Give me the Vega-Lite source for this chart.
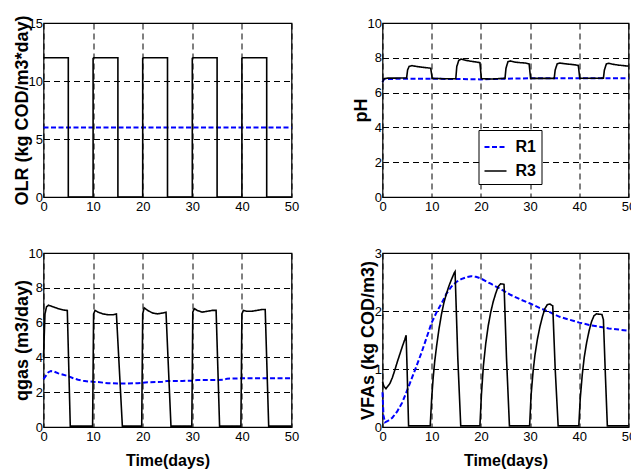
{
  "$schema": "https://vega.github.io/schema/vega-lite/v6.json",
  "padding": {"left": 11.5, "top": 14, "right": 0, "bottom": 0},
  "background": "white",
  "datasets": {
    "olr": [
      {"s": "R1", "t": 0, "v": 6}, {"s": "R1", "t": 50, "v": 6},
      {"s": "R3", "t": 0, "v": 12}, {"s": "R3", "t": 5, "v": 0}, {"s": "R3", "t": 10, "v": 12}, {"s": "R3", "t": 15, "v": 0},
      {"s": "R3", "t": 20, "v": 12}, {"s": "R3", "t": 25, "v": 0}, {"s": "R3", "t": 30, "v": 12}, {"s": "R3", "t": 35, "v": 0},
      {"s": "R3", "t": 40, "v": 12}, {"s": "R3", "t": 45, "v": 0}, {"s": "R3", "t": 50, "v": 0}
    ],
    "ph": [
      {"s": "R1", "t": 0, "v": 6.6}, {"s": "R1", "t": 0.3, "v": 6.78}, {"s": "R1", "t": 5, "v": 6.8}, {"s": "R1", "t": 10, "v": 6.8},
      {"s": "R1", "t": 15, "v": 6.78}, {"s": "R1", "t": 20, "v": 6.76}, {"s": "R1", "t": 25, "v": 6.8}, {"s": "R1", "t": 30, "v": 6.82},
      {"s": "R1", "t": 40, "v": 6.83}, {"s": "R1", "t": 50, "v": 6.83},
      {"s": "R3", "t": 0, "v": 6.6}, {"s": "R3", "t": 0.3, "v": 6.8}, {"s": "R3", "t": 1, "v": 6.83}, {"s": "R3", "t": 4.9, "v": 6.84},
      {"s": "R3", "t": 5.1, "v": 7.3}, {"s": "R3", "t": 5.4, "v": 7.5}, {"s": "R3", "t": 6, "v": 7.55}, {"s": "R3", "t": 7, "v": 7.5},
      {"s": "R3", "t": 8, "v": 7.46}, {"s": "R3", "t": 9, "v": 7.43}, {"s": "R3", "t": 9.8, "v": 7.4}, {"s": "R3", "t": 10.1, "v": 6.82},
      {"s": "R3", "t": 12, "v": 6.8}, {"s": "R3", "t": 14.9, "v": 6.8}, {"s": "R3", "t": 15.1, "v": 7.5}, {"s": "R3", "t": 15.5, "v": 7.85},
      {"s": "R3", "t": 16, "v": 7.93}, {"s": "R3", "t": 17, "v": 7.85}, {"s": "R3", "t": 18, "v": 7.8}, {"s": "R3", "t": 19, "v": 7.76},
      {"s": "R3", "t": 19.8, "v": 7.72}, {"s": "R3", "t": 20.1, "v": 6.8}, {"s": "R3", "t": 22, "v": 6.78}, {"s": "R3", "t": 24.9, "v": 6.82},
      {"s": "R3", "t": 25.1, "v": 7.4}, {"s": "R3", "t": 25.5, "v": 7.78}, {"s": "R3", "t": 26, "v": 7.82}, {"s": "R3", "t": 27, "v": 7.75},
      {"s": "R3", "t": 28, "v": 7.72}, {"s": "R3", "t": 29, "v": 7.7}, {"s": "R3", "t": 29.8, "v": 7.65}, {"s": "R3", "t": 30.1, "v": 6.82},
      {"s": "R3", "t": 34.9, "v": 6.82}, {"s": "R3", "t": 35.1, "v": 7.3}, {"s": "R3", "t": 35.5, "v": 7.65}, {"s": "R3", "t": 36, "v": 7.7},
      {"s": "R3", "t": 37, "v": 7.66}, {"s": "R3", "t": 38, "v": 7.63}, {"s": "R3", "t": 39, "v": 7.6}, {"s": "R3", "t": 39.8, "v": 7.56},
      {"s": "R3", "t": 40.1, "v": 6.82}, {"s": "R3", "t": 44.9, "v": 6.83}, {"s": "R3", "t": 45.1, "v": 7.3}, {"s": "R3", "t": 45.5, "v": 7.65},
      {"s": "R3", "t": 46, "v": 7.68}, {"s": "R3", "t": 47, "v": 7.62}, {"s": "R3", "t": 48, "v": 7.58}, {"s": "R3", "t": 49, "v": 7.55},
      {"s": "R3", "t": 50, "v": 7.52}
    ],
    "qgas": [
      {"s": "R1", "t": 0, "v": 2.75}, {"s": "R1", "t": 0.5, "v": 2.95}, {"s": "R1", "t": 1, "v": 3.15}, {"s": "R1", "t": 1.5, "v": 3.22},
      {"s": "R1", "t": 2, "v": 3.2}, {"s": "R1", "t": 3, "v": 3.08}, {"s": "R1", "t": 4, "v": 3.0}, {"s": "R1", "t": 5, "v": 2.92},
      {"s": "R1", "t": 6, "v": 2.8}, {"s": "R1", "t": 7, "v": 2.72}, {"s": "R1", "t": 8, "v": 2.66}, {"s": "R1", "t": 9, "v": 2.62},
      {"s": "R1", "t": 10, "v": 2.6}, {"s": "R1", "t": 11, "v": 2.58}, {"s": "R1", "t": 12, "v": 2.55}, {"s": "R1", "t": 13, "v": 2.52},
      {"s": "R1", "t": 15, "v": 2.5}, {"s": "R1", "t": 17, "v": 2.5}, {"s": "R1", "t": 19, "v": 2.52}, {"s": "R1", "t": 21, "v": 2.57},
      {"s": "R1", "t": 24, "v": 2.6}, {"s": "R1", "t": 25, "v": 2.65}, {"s": "R1", "t": 28, "v": 2.65}, {"s": "R1", "t": 30, "v": 2.66},
      {"s": "R1", "t": 31, "v": 2.7}, {"s": "R1", "t": 35, "v": 2.7}, {"s": "R1", "t": 36.5, "v": 2.72}, {"s": "R1", "t": 37, "v": 2.78},
      {"s": "R1", "t": 40, "v": 2.8}, {"s": "R1", "t": 45, "v": 2.8}, {"s": "R1", "t": 50, "v": 2.8},
      {"s": "R3", "t": 0, "v": 4.0}, {"s": "R3", "t": 0.3, "v": 6.5}, {"s": "R3", "t": 0.6, "v": 6.9}, {"s": "R3", "t": 1, "v": 7.0},
      {"s": "R3", "t": 2, "v": 6.9}, {"s": "R3", "t": 3, "v": 6.8}, {"s": "R3", "t": 4, "v": 6.72}, {"s": "R3", "t": 4.8, "v": 6.7},
      {"s": "R3", "t": 5.4, "v": 0.05}, {"s": "R3", "t": 9.9, "v": 0.05}, {"s": "R3", "t": 10.1, "v": 6.5}, {"s": "R3", "t": 10.4, "v": 6.7},
      {"s": "R3", "t": 11, "v": 6.6}, {"s": "R3", "t": 12, "v": 6.5}, {"s": "R3", "t": 13, "v": 6.45}, {"s": "R3", "t": 14, "v": 6.45},
      {"s": "R3", "t": 14.7, "v": 6.5}, {"s": "R3", "t": 15.9, "v": 0.05}, {"s": "R3", "t": 19.8, "v": 0.05}, {"s": "R3", "t": 20.0, "v": 6.5},
      {"s": "R3", "t": 20.3, "v": 6.85}, {"s": "R3", "t": 21, "v": 6.7}, {"s": "R3", "t": 22, "v": 6.55}, {"s": "R3", "t": 23, "v": 6.5},
      {"s": "R3", "t": 24, "v": 6.55}, {"s": "R3", "t": 24.7, "v": 6.6}, {"s": "R3", "t": 25.7, "v": 0.05}, {"s": "R3", "t": 29.9, "v": 0.05},
      {"s": "R3", "t": 30.1, "v": 6.6}, {"s": "R3", "t": 30.4, "v": 6.8}, {"s": "R3", "t": 31, "v": 6.7}, {"s": "R3", "t": 32, "v": 6.6},
      {"s": "R3", "t": 33, "v": 6.65}, {"s": "R3", "t": 34, "v": 6.7}, {"s": "R3", "t": 34.8, "v": 6.7}, {"s": "R3", "t": 35.5, "v": 0.05},
      {"s": "R3", "t": 39.8, "v": 0.05}, {"s": "R3", "t": 40.0, "v": 6.5}, {"s": "R3", "t": 40.3, "v": 6.7}, {"s": "R3", "t": 41, "v": 6.65},
      {"s": "R3", "t": 42, "v": 6.65}, {"s": "R3", "t": 43, "v": 6.7}, {"s": "R3", "t": 44, "v": 6.75}, {"s": "R3", "t": 44.7, "v": 6.75},
      {"s": "R3", "t": 45.4, "v": 0.05}, {"s": "R3", "t": 50, "v": 0.05}
    ],
    "vfa": [
      {"s": "R1", "t": 0, "v": 0.6}, {"s": "R1", "t": 0.2, "v": 0.2}, {"s": "R1", "t": 0.5, "v": 0.08}, {"s": "R1", "t": 1, "v": 0.1},
      {"s": "R1", "t": 2, "v": 0.16}, {"s": "R1", "t": 3, "v": 0.27}, {"s": "R1", "t": 4, "v": 0.42}, {"s": "R1", "t": 5, "v": 0.63},
      {"s": "R1", "t": 6, "v": 0.85}, {"s": "R1", "t": 7, "v": 1.07}, {"s": "R1", "t": 8, "v": 1.3}, {"s": "R1", "t": 9, "v": 1.55},
      {"s": "R1", "t": 10, "v": 1.8}, {"s": "R1", "t": 11, "v": 1.98}, {"s": "R1", "t": 12, "v": 2.13}, {"s": "R1", "t": 13, "v": 2.3},
      {"s": "R1", "t": 14, "v": 2.42}, {"s": "R1", "t": 15, "v": 2.5}, {"s": "R1", "t": 16, "v": 2.55}, {"s": "R1", "t": 17, "v": 2.58},
      {"s": "R1", "t": 18, "v": 2.6}, {"s": "R1", "t": 19, "v": 2.59}, {"s": "R1", "t": 20, "v": 2.56}, {"s": "R1", "t": 22, "v": 2.47},
      {"s": "R1", "t": 24, "v": 2.38}, {"s": "R1", "t": 26, "v": 2.28}, {"s": "R1", "t": 28, "v": 2.2}, {"s": "R1", "t": 30, "v": 2.13},
      {"s": "R1", "t": 32, "v": 2.05}, {"s": "R1", "t": 34, "v": 1.98}, {"s": "R1", "t": 36, "v": 1.9}, {"s": "R1", "t": 38, "v": 1.85},
      {"s": "R1", "t": 40, "v": 1.8}, {"s": "R1", "t": 42, "v": 1.76}, {"s": "R1", "t": 44, "v": 1.73}, {"s": "R1", "t": 46, "v": 1.7},
      {"s": "R1", "t": 48, "v": 1.68}, {"s": "R1", "t": 50, "v": 1.66},
      {"s": "R3", "t": 0, "v": 0.78}, {"s": "R3", "t": 0.3, "v": 0.7}, {"s": "R3", "t": 0.7, "v": 0.66}, {"s": "R3", "t": 1.5, "v": 0.75},
      {"s": "R3", "t": 2, "v": 0.85}, {"s": "R3", "t": 2.5, "v": 0.98}, {"s": "R3", "t": 3, "v": 1.12}, {"s": "R3", "t": 3.5, "v": 1.25},
      {"s": "R3", "t": 4, "v": 1.38}, {"s": "R3", "t": 4.5, "v": 1.5}, {"s": "R3", "t": 4.8, "v": 1.58}, {"s": "R3", "t": 5.0, "v": 1.0},
      {"s": "R3", "t": 5.3, "v": 0.02}, {"s": "R3", "t": 9.7, "v": 0.02}, {"s": "R3", "t": 10.0, "v": 0.5}, {"s": "R3", "t": 10.3, "v": 0.85},
      {"s": "R3", "t": 10.6, "v": 1.12}, {"s": "R3", "t": 11, "v": 1.4}, {"s": "R3", "t": 11.5, "v": 1.7}, {"s": "R3", "t": 12, "v": 1.95},
      {"s": "R3", "t": 12.5, "v": 2.15}, {"s": "R3", "t": 13, "v": 2.3}, {"s": "R3", "t": 13.5, "v": 2.43}, {"s": "R3", "t": 14, "v": 2.54},
      {"s": "R3", "t": 14.6, "v": 2.66}, {"s": "R3", "t": 14.75, "v": 2.68}, {"s": "R3", "t": 15.3, "v": 1.2}, {"s": "R3", "t": 15.9, "v": 0.02},
      {"s": "R3", "t": 19.8, "v": 0.02}, {"s": "R3", "t": 20.1, "v": 0.55}, {"s": "R3", "t": 20.5, "v": 1.05}, {"s": "R3", "t": 21, "v": 1.45},
      {"s": "R3", "t": 21.5, "v": 1.75}, {"s": "R3", "t": 22, "v": 1.98}, {"s": "R3", "t": 22.5, "v": 2.16}, {"s": "R3", "t": 23, "v": 2.3},
      {"s": "R3", "t": 23.5, "v": 2.42}, {"s": "R3", "t": 24, "v": 2.47}, {"s": "R3", "t": 24.7, "v": 2.46}, {"s": "R3", "t": 25.2, "v": 1.2},
      {"s": "R3", "t": 25.8, "v": 0.02}, {"s": "R3", "t": 29.9, "v": 0.02}, {"s": "R3", "t": 30.2, "v": 0.55}, {"s": "R3", "t": 30.6, "v": 0.95},
      {"s": "R3", "t": 31, "v": 1.25}, {"s": "R3", "t": 31.5, "v": 1.52}, {"s": "R3", "t": 32, "v": 1.73}, {"s": "R3", "t": 32.5, "v": 1.9},
      {"s": "R3", "t": 33, "v": 2.04}, {"s": "R3", "t": 33.5, "v": 2.11}, {"s": "R3", "t": 34, "v": 2.12}, {"s": "R3", "t": 34.6, "v": 2.09},
      {"s": "R3", "t": 35.1, "v": 1.0}, {"s": "R3", "t": 35.7, "v": 0.02}, {"s": "R3", "t": 39.9, "v": 0.02}, {"s": "R3", "t": 40.2, "v": 0.5},
      {"s": "R3", "t": 40.6, "v": 0.9}, {"s": "R3", "t": 41, "v": 1.2}, {"s": "R3", "t": 41.5, "v": 1.46}, {"s": "R3", "t": 42, "v": 1.66},
      {"s": "R3", "t": 42.5, "v": 1.82}, {"s": "R3", "t": 43, "v": 1.92}, {"s": "R3", "t": 43.5, "v": 1.95}, {"s": "R3", "t": 44.6, "v": 1.94},
      {"s": "R3", "t": 44.9, "v": 1.85}, {"s": "R3", "t": 45.3, "v": 0.9}, {"s": "R3", "t": 45.7, "v": 0.02}, {"s": "R3", "t": 50, "v": 0.02}
    ]
  },
  "columns": 2,
  "spacing": {"row": 56, "column": 91},
  "bounds": "flush",
  "resolve": {"scale": {"color": "independent", "strokeDash": "independent", "strokeWidth": "independent"}},
  "concat": [
    {
      "width": 248, "height": 174,
      "data": {"name": "olr"},
      "mark": {"type": "line", "interpolate": "step-after"},
      "encoding": {
        "x": {"field": "t", "type": "quantitative", "scale": {"domain": [0, 50], "nice": false}, "axis": {"values": [0, 10, 20, 30, 40, 50], "title": null}},
        "y": {"field": "v", "type": "quantitative", "scale": {"domain": [0, 15], "nice": false}, "axis": {"values": [0, 5, 10, 15], "title": "OLR (kg COD/m3*day)"}},
        "color": {"field": "s", "type": "nominal", "scale": {"domain": ["R1", "R3"], "range": ["#0000ff", "#000000"]}, "legend": null},
        "strokeDash": {"field": "s", "type": "nominal", "scale": {"domain": ["R1", "R3"], "range": [[5, 2.5], [1, 0]]}, "legend": null},
        "strokeWidth": {"field": "s", "type": "nominal", "scale": {"domain": ["R1", "R3"], "range": [2, 1.6]}, "legend": null}
      }
    },
    {
      "width": 246, "height": 174,
      "data": {"name": "ph"},
      "mark": {"type": "line"},
      "encoding": {
        "x": {"field": "t", "type": "quantitative", "scale": {"domain": [0, 50], "nice": false}, "axis": {"values": [0, 10, 20, 30, 40, 50], "title": null}},
        "y": {"field": "v", "type": "quantitative", "scale": {"domain": [0, 10], "nice": false}, "axis": {"values": [0, 2, 4, 6, 8, 10], "title": "pH"}},
        "color": {"field": "s", "type": "nominal", "scale": {"domain": ["R1", "R3"], "range": ["#0000ff", "#000000"]}, "legend": {"title": null}},
        "strokeDash": {"field": "s", "type": "nominal", "scale": {"domain": ["R1", "R3"], "range": [[5, 2.5], [1, 0]]}, "legend": {"title": null}},
        "strokeWidth": {"field": "s", "type": "nominal", "scale": {"domain": ["R1", "R3"], "range": [2, 1.6]}, "legend": null}
      }
    },
    {
      "width": 248, "height": 174,
      "data": {"name": "qgas"},
      "mark": {"type": "line"},
      "encoding": {
        "x": {"field": "t", "type": "quantitative", "scale": {"domain": [0, 50], "nice": false}, "axis": {"values": [0, 10, 20, 30, 40, 50], "title": "Time(days)"}},
        "y": {"field": "v", "type": "quantitative", "scale": {"domain": [0, 10], "nice": false}, "axis": {"values": [0, 2, 4, 6, 8, 10], "title": "qgas (m3/day)"}},
        "color": {"field": "s", "type": "nominal", "scale": {"domain": ["R1", "R3"], "range": ["#0000ff", "#000000"]}, "legend": null},
        "strokeDash": {"field": "s", "type": "nominal", "scale": {"domain": ["R1", "R3"], "range": [[5, 2.5], [1, 0]]}, "legend": null},
        "strokeWidth": {"field": "s", "type": "nominal", "scale": {"domain": ["R1", "R3"], "range": [2, 1.6]}, "legend": null}
      }
    },
    {
      "width": 246, "height": 174,
      "data": {"name": "vfa"},
      "mark": {"type": "line"},
      "encoding": {
        "x": {"field": "t", "type": "quantitative", "scale": {"domain": [0, 50], "nice": false}, "axis": {"values": [0, 10, 20, 30, 40, 50], "title": "Time(days)"}},
        "y": {"field": "v", "type": "quantitative", "scale": {"domain": [0, 3], "nice": false}, "axis": {"values": [0, 1, 2, 3], "title": "VFAs (kg COD/m3)"}},
        "color": {"field": "s", "type": "nominal", "scale": {"domain": ["R1", "R3"], "range": ["#0000ff", "#000000"]}, "legend": null},
        "strokeDash": {"field": "s", "type": "nominal", "scale": {"domain": ["R1", "R3"], "range": [[5, 2.5], [1, 0]]}, "legend": null},
        "strokeWidth": {"field": "s", "type": "nominal", "scale": {"domain": ["R1", "R3"], "range": [2, 1.6]}, "legend": null}
      }
    }
  ],
  "config": {
    "font": "Liberation Sans",
    "view": {"stroke": "#000000", "strokeWidth": 1.2},
    "axis": {
      "domain": false, "ticks": false, "grid": true,
      "gridColor": "#000000", "gridDash": [6, 4], "gridWidth": 1, "gridOpacity": 1,
      "labelFont": "Liberation Sans Narrow, Liberation Sans", "labelFontSize": 13, "labelColor": "#000000",
      "labelFlush": false, "labelOverlap": false,
      "titleFont": "Liberation Sans", "titleFontWeight": "bold", "titleColor": "#000000"
    },
    "axisY": {"titleFontSize": 18, "labelPadding": 1, "titlePadding": -3},
    "axisX": {"titleFontSize": 16, "labelPadding": 3, "titlePadding": 9},
    "legend": {
      "orient": "none", "legendX": 96, "legendY": 107,
      "strokeColor": "#000000", "fillColor": "#ffffff", "padding": 5,
      "symbolType": "stroke", "symbolSize": 484, "symbolStrokeWidth": 2,
      "labelFont": "Liberation Sans", "labelFontWeight": "bold", "labelFontSize": 16, "labelColor": "#000000",
      "labelOffset": 8, "rowPadding": 4, "cornerRadius": 0
    }
  }
}
